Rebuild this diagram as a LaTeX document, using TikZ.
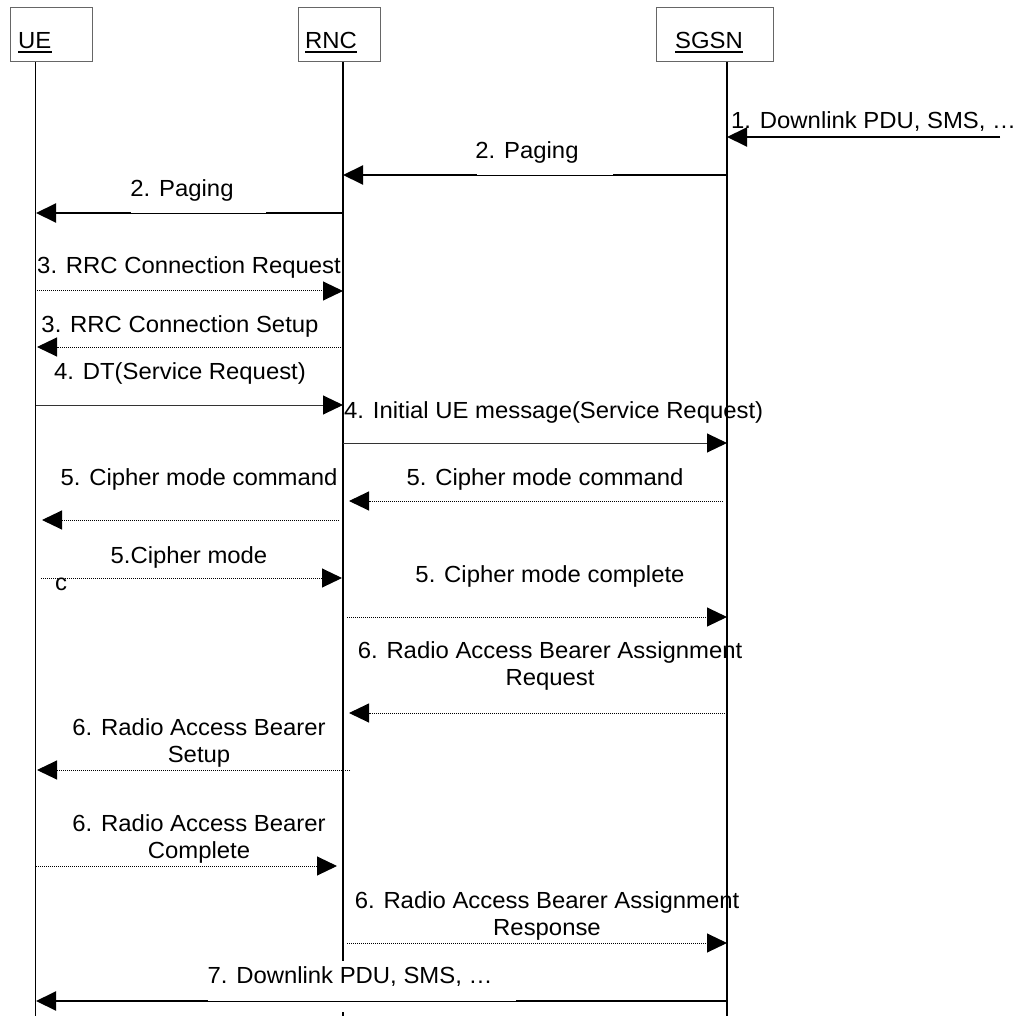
\documentclass[tikz,border=0pt]{standalone}
\usepackage{fontspec}
\setmainfont[FakeStretch=1.025]{Liberation Sans}
\usetikzlibrary{arrows.meta}
\tikzset{
  actor/.style={draw=black!60, line width=1pt, inner sep=0pt},
  actorname/.style={anchor=base west, inner sep=0pt},
  lifeline/.style={line width=1.5pt},
  tip/.style={-{Triangle[length=20pt,width=19pt,color=black]}},
  msgthick/.style={tip, line width=2pt},
  msgthin/.style={tip, line width=1pt, draw=black!80},
  msgdot/.style={tip, line width=1pt, dash pattern=on 1pt off 1pt},
  lbl/.style={anchor=base, inner sep=0pt},
  gap/.style={fill=white}
}
\newcommand\msgarrow[4]{\coordinate (#1s) at #2; \coordinate (#1e) at #3; \draw[#4] (#1s) -- (#1e);}
\begin{document}
\begin{tikzpicture}[x=1pt,y=-1pt,font=\fontsize{23.3}{27}\selectfont]
\useasboundingbox (0,0) rectangle (1020,1016);
% actor boxes
\node[actor, minimum width=82pt, minimum height=54pt] (ue) at (51,35) {};
\node[actor, minimum width=82pt, minimum height=54pt] (rnc) at (339,35) {};
\node[actor, minimum width=117pt, minimum height=54pt] (sgsn) at (714.5,35) {};
\node[actorname] (uet) at (18,49) {UE};
\node[actorname] (rnct) at (305,49) {RNC};
\node[actorname] (sgsnt) at (675,49) {SGSN};
\foreach \n in {uet,rnct,sgsnt}
  \draw[line width=1.5pt] ([yshift=-3pt]\n.base west) -- ([yshift=-3pt]\n.base east);
% lifelines
\coordinate (ueb) at (35.5,1016);
\coordinate (rncb) at (343,1016);
\coordinate (sgsnb) at (727,1016);
\draw[lifeline] (ue.south -| ueb) -- (ueb);
\draw[lifeline] (rnc.south -| rncb) -- (rncb);
\draw[lifeline] (sgsn.south -| sgsnb) -- (sgsnb);
% messages
\msgarrow{m1}{(1000,137)}{(727,137)}{msgthick}
\msgarrow{m2a}{(727,175)}{(343,175)}{msgthick}
\msgarrow{m2b}{(343,213)}{(36,213)}{msgthick}
\msgarrow{m3a}{(37,291)}{(343,291)}{msgdot}
\msgarrow{m3b}{(343,347)}{(37,347)}{msgdot}
\msgarrow{m4a}{(36,405)}{(343,405)}{msgthin}
\msgarrow{m4b}{(343,443)}{(727,443)}{msgthin}
\msgarrow{m5a}{(723,501)}{(349,501)}{msgdot}
\msgarrow{m5b}{(339,520)}{(42,520)}{msgdot}
\msgarrow{m5c}{(41,578)}{(342,578)}{msgdot}
\msgarrow{m5d}{(347,617)}{(727,617)}{msgdot}
\msgarrow{m6a}{(727,713)}{(349,713)}{msgdot}
\msgarrow{m6b}{(350,770)}{(37,770)}{msgdot}
\msgarrow{m6c}{(36,866)}{(337,866)}{msgdot}
\msgarrow{m6d}{(347,943)}{(727,943)}{msgdot}
\msgarrow{m7}{(727,1001)}{(36,1001)}{msgthick}
% white label backgrounds (they hide the upper half of the lines)
\fill[gap] (477,158) rectangle (613,175);
\fill[gap] (131,196) rectangle (266,213);
\fill[gap] (208,961) rectangle (516,1001);
\fill[gap] (340,1002) rectangle (346,1012);
% labels
\node[lbl, anchor=base west] (t1) at (731,129) {1. Downlink PDU, SMS, …};
\node[lbl] (t2a) at (527,159) {2. Paging};
\node[lbl] (t2b) at (182,197) {2. Paging};
\node[lbl] (t3a) at (189,274) {3. RRC Connection Request};
\node[lbl] (t3b) at (180,332) {3. RRC Connection Setup};
\node[lbl] (t4a) at (180,379) {4. DT(Service Request)};
\node[lbl, anchor=base west] (t4b) at (344,418) {4. Initial UE message(Service Request)};
\node[lbl] (t5a) at (545,485) {5. Cipher mode command};
\node[lbl] (t5b) at (199,485) {5. Cipher mode command};
\node[lbl] (t5c) at (189,563) {5.Cipher mode};
\node[lbl, anchor=base west] (t5cc) at (55,590) {c};
\node[lbl] (t5d) at (550,582) {5. Cipher mode complete};
\node[lbl] (t6a) at (550,658) {\begin{tabular}[t]{@{}c@{}}6. Radio Access Bearer Assignment\\Request\end{tabular}};
\node[lbl] (t6b) at (199,735) {\begin{tabular}[t]{@{}c@{}}6. Radio Access Bearer\\Setup\end{tabular}};
\node[lbl] (t6c) at (199,831) {\begin{tabular}[t]{@{}c@{}}6. Radio Access Bearer\\Complete\end{tabular}};
\node[lbl] (t6d) at (547,908) {\begin{tabular}[t]{@{}c@{}}6. Radio Access Bearer Assignment\\Response\end{tabular}};
\node[lbl] (t7) at (350,983) {7. Downlink PDU, SMS, …};
\end{tikzpicture}
\end{document}
